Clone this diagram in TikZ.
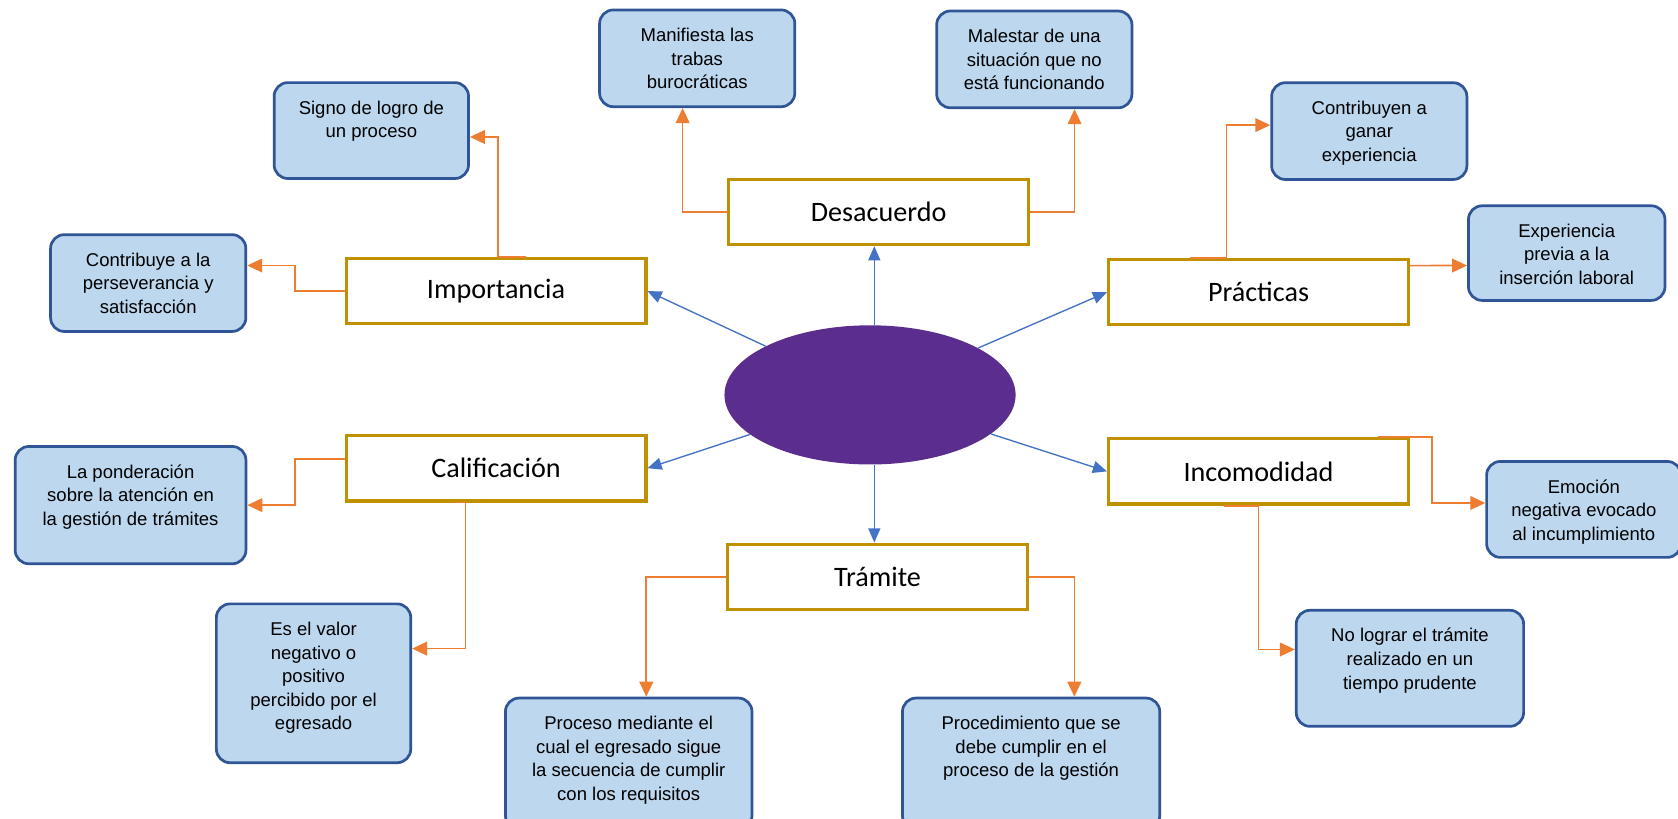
\documentclass[tikz,border=0pt]{standalone}
\usepackage{fontspec}
\usetikzlibrary{arrows.meta,shapes.geometric}

\newfontfamily\arialf{Liberation Sans}
\newfontfamily\calibrif{Carlito}

\definecolor{celeste}{HTML}{BDD7EE}
\definecolor{azuloscuro}{HTML}{2F5597}
\definecolor{dorado}{HTML}{BF9000}
\definecolor{azul}{HTML}{4472C4}
\definecolor{naranja}{HTML}{ED7D31}
\definecolor{morado}{HTML}{5B2D8E}

\newcommand{\cajatexto}[3]{\begin{minipage}[c][#2][t]{#1}\centering\vspace*{10pt}\strut#3\end{minipage}}

\tikzset{
    concepto/.style={draw=dorado, line width=2.2pt, fill=white, minimum width=7cm, minimum height=1.525cm, font=\calibrif\fontsize{18.7}{22}\selectfont},
    caja/.style={draw=azuloscuro, line width=1.8pt, fill=celeste, rounded corners=0.32cm, inner sep=0pt, font=\arialf\fontsize{12.3}{15.7}\selectfont},
    flechaazul/.style={azul, line width=0.9pt, -{Triangle[length=0.33cm,width=0.28cm]}},
    flechanaranja/.style={naranja, line width=1.1pt, -{Triangle[length=0.35cm,width=0.32cm]}}
}

\begin{document}
\begin{tikzpicture}[x=0.025cm, y=-0.025cm]
        \useasboundingbox (0,0) rectangle (1568,765);
        \clip (0,0) rectangle (1568,765);

        \node[ellipse, fill=morado, minimum width=6.8cm, minimum height=3.25cm, inner sep=0pt] (centro) at (813,369) {};

        \node[concepto] (des) at (821,198) {Desacuerdo};
        \node[concepto] (imp) at (463.5,272) {Importancia};
        \node[concepto] (prac) at (1176,273) {Prácticas};
        \node[concepto] (cal) at (463.5,437.5) {Calificación};
        \node[concepto] (inc) at (1176,440.5) {Incomodidad};
        \node[concepto] (tram) at (820,539) {Trámite};

        \node[caja] (mani) at (651.5,54.5) {\cajatexto{4.56cm}{2.26cm}{Manifiesta las\\ trabas\\ burocráticas}};
        \node[caja] (males) at (966.5,55.5) {\cajatexto{4.56cm}{2.26cm}{Malestar de una\\ situación que no\\ está funcionando}};
        \node[caja] (signo) at (347,122) {\cajatexto{4.54cm}{2.24cm}{Signo de logro de\\ un proceso}};
        \node[caja] (contrib) at (1279.5,122.5) {\cajatexto{4.56cm}{2.26cm}{Contribuyen a\\ ganar\\ experiencia}};
        \node[caja] (perse) at (138.5,264.5) {\cajatexto{4.56cm}{2.26cm}{Contribuye a la\\ perseverancia y\\ satisfacción}};
        \node[caja] (expe) at (1464,236.5) {\cajatexto{4.59cm}{2.21cm}{Experiencia\\ previa a la\\ inserción laboral}};
        \node[caja] (ponde) at (122,472) {\cajatexto{5.39cm}{2.74cm}{La ponderación\\ sobre la atención en\\ la gestión de trámites}};
        \node[caja] (emoc) at (1480,476) {\cajatexto{4.54cm}{2.24cm}{Emoción\\ negativa evocado\\ al incumplimiento}};
        \node[caja] (valor) at (293,638.5) {\cajatexto{4.54cm}{3.71cm}{Es el valor\\ negativo o\\ positivo\\ percibido por el\\ egresado}};
        \node[caja] (nolog) at (1317.5,624.5) {\cajatexto{5.31cm}{2.71cm}{No lograr el trámite\\ realizado en un\\ tiempo prudente}};
        \node[caja] (proce) at (587.5,713.5) {\cajatexto{5.76cm}{3.06cm}{Proceso mediante el\\ cual el egresado sigue\\ la secuencia de cumplir\\ con los requisitos}};
        \node[caja] (proced) at (963.5,713.5) {\cajatexto{6.01cm}{3.06cm}{Procedimiento que se\\ debe cumplir en el\\ proceso de la gestión}};

        \draw[flechaazul] ([xshift=0.1cm]centro.north) -- ([xshift=0.1cm]centro.north |- des.south);
        \draw[flechaazul] (centro) -- (imp.east);
        \draw[flechaazul] (centro) -- (prac.west);
        \draw[flechaazul] (centro) -- (cal.east);
        \draw[flechaazul] (centro) -- (inc.west);
        \draw[flechaazul] ([xshift=0.1cm]centro.south) -- ([xshift=0.1cm]centro.south |- tram.north);

        \draw[flechanaranja] (des.west) -| ([xshift=-0.34cm]mani.south);
        \draw[flechanaranja] (des.east) -| ([xshift=0.94cm]males.south);
        \draw[flechanaranja] ([xshift=0.7cm]imp.north) -- ++(-26,0) |- ([yshift=-0.15cm]signo.east);
        \draw[flechanaranja] (imp.west) -- ++(-46,0) |- ([yshift=0.41cm]perse.east);
        \draw[flechanaranja] ([xshift=-1.6cm]prac.north) -- ++(34,0) |- ([yshift=0.14cm]contrib.west);
        \draw[flechanaranja] ([yshift=0.62cm]prac.east) -- ([yshift=-0.29cm]expe.west);
        \draw[flechanaranja] ([yshift=0.21cm]cal.west) -- ++(-46,0) |- (ponde.east);
        \draw[flechanaranja] ([xshift=-0.96cm]cal.south) -- ++(10,0) |- ([yshift=0.81cm]valor.east);
        \draw[flechanaranja] (tram.west) -| ([xshift=0.41cm]proce.north);
        \draw[flechanaranja] (tram.east) -| ([xshift=1.01cm]proced.north);
        \draw[flechanaranja] ([xshift=2.8cm]inc.north) -- ++(50,0) |- ([yshift=0.15cm]emoc.west);
        \draw[flechanaranja] ([xshift=-0.8cm]inc.south) -- ++(32,0) |- ([yshift=0.44cm]nolog.west);
    \end{tikzpicture}
\end{document}
